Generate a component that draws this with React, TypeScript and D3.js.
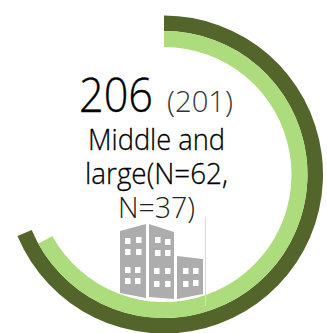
import React from "react";
import * as d3 from "d3";

const gaugeMax = 300;
const seriesNames = ["current", "previous"];
const seriesValues = [206, 201];
const seriesColors = ["#53652a", "#acdc7c"];
const labelLines = ["Middle and", "large(N=62,", "N=37)"];
const labelWidths = [137, 143, 77];
const labelFills = ["#000", "#000", "#222"];

const W = 327;
const H = 333;
const cx = 164;
const cy = 174.5;
const ringRadii: [number, number][] = [[143.5, 159], [127.5, 143.5]];

const angle = d3.scaleLinear().domain([0, gaugeMax]).range([0, 2 * Math.PI]);

const towerFill = "#adadad";

// One window pane of the office-block icon
const Pane = ({ x, y, w = 5.5, h = 6 }: { x: number; y: number; w?: number; h?: number }) => (
  <rect x={x} y={y} width={w} height={h} fill="#fff" />
);

const leftPanes = [[125, 238], [136, 237], [125, 249], [136, 249], [125, 267], [135, 267], [125, 278], [135, 278]];
const midPanes = [[155, 237], [165, 239], [155, 250], [165, 250], [154, 268], [165, 268], [154, 281], [165, 281]];
const rightPanes = [[183, 268], [193, 268], [183, 281], [193, 280]];

export default function App() {
  const arc = d3.arc();
  return (
    <svg
      width={W}
      height={H}
      style={{ position: "absolute", left: 0, top: 0, display: "block" }}
      fontFamily="'Open Sans', sans-serif"
    >
      <rect width={W} height={H} fill="#fff" />
      {seriesNames.map((name, i) => (
        <path
          key={name}
          transform={`translate(${cx},${cy})`}
          fill={seriesColors[i]}
          d={
            arc({
              innerRadius: ringRadii[i][0],
              outerRadius: ringRadii[i][1],
              startAngle: 0,
              endAngle: angle(seriesValues[i]),
            }) as string
          }
        />
      ))}

      <text x={79} y={112} fontSize={47.5} fontWeight={300} fill="#000" stroke="#000" strokeWidth={0.35} textLength={74} lengthAdjust="spacingAndGlyphs">
        {seriesValues[0]}
      </text>
      <text x={167} y={112} fontSize={30} fontWeight={300} fill="#333" textLength={66} lengthAdjust="spacingAndGlyphs">
        ({seriesValues[1]})
      </text>
      {labelLines.map((line, i) => (
        <text
          key={line}
          x={156.5}
          y={150 + i * 34}
          textAnchor="middle"
          fontSize={30}
          fontWeight={300}
          fill={labelFills[i]}
          stroke={labelFills[i]}
          strokeWidth={i === 2 ? 0 : 0.3}
          textLength={labelWidths[i]}
          lengthAdjust="spacingAndGlyphs"
        >
          {line}
        </text>
      ))}

      <polygon points="120,231 146,224 146,298 120,293" fill={towerFill} />
      <polygon points="149,224 174,232 174,299 149,297" fill={towerFill} />
      <polygon points="177,256 203,259 203,294 177,299" fill={towerFill} />
      {[...leftPanes, ...midPanes, ...rightPanes].map(([x, y], i) => (
        <Pane key={i} x={x} y={y} />
      ))}
      <line x1={205.5} x2={205.5} y1={217} y2={306} stroke="#d9d9d9" strokeWidth={1} />
    </svg>
  );
}
